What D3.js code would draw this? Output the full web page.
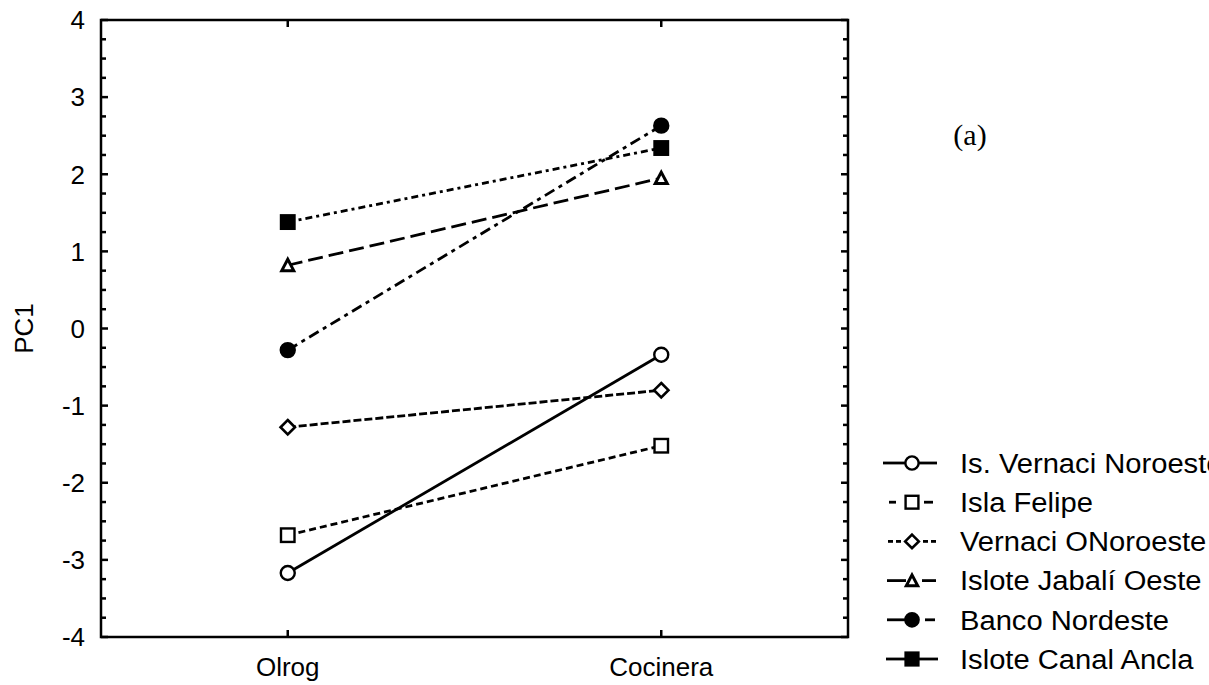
<!DOCTYPE html>
<html><head><meta charset="utf-8">
<script src="https://cdn.jsdelivr.net/npm/d3@7"></script>
<style>body{margin:0;background:#fff}svg{display:block}</style>
</head><body>
<svg id="c" width="1209" height="685"></svg>
<script>
const categories = ["Olrog", "Cocinera"];
const seriesNames = ["Is. Vernaci Noroeste", "Isla Felipe", "Vernaci ONoroeste", "Islote Jabalí Oeste", "Banco Nordeste", "Islote Canal Ancla"];
const vernaciNoroeste = [-3.17, -0.34];
const islaFelipe = [-2.68, -1.52];
const vernaciONoroeste = [-1.28, -0.80];
const isloteJabali = [0.82, 1.95];
const bancoNordeste = [-0.28, 2.63];
const isloteCanalAncla = [1.38, 2.34];
const yTicks = [-4, -3, -2, -1, 0, 1, 2, 3, 4];
const yLabel = "PC1";
const panelLabel = "(a)";

const seriesValues = [vernaciNoroeste, islaFelipe, vernaciONoroeste, isloteJabali, bancoNordeste, isloteCanalAncla];
const styles = [
  {marker: "circle", fill: "#fff", dash: null, legL: [[883, 905]], legR: [[919, 937]]},
  {marker: "square", fill: "#fff", dash: "7,4", legL: [[889, 896]], legR: [[924, 933]]},
  {marker: "diamond", fill: "#fff", dash: "8,3", legL: [[888, 893], [896, 901]], legR: [[923, 928], [931, 936]]},
  {marker: "triangle", fill: "#fff", dash: "15,6", legL: [[887, 906]], legR: [[922, 936]]},
  {marker: "circle", fill: "#000", dash: "11,5,4,5", legL: [[887, 905]], legR: [[925, 935]]},
  {marker: "square", fill: "#000", dash: "7,4,3,4", legL: [[886, 905]], legR: [[919, 938]]}
];

const svg = d3.select("#c");
const L = 101, R = 848, T = 20, B = 637;
const x = d3.scalePoint().domain(categories).range([L, R]).padding(0.5);
const y = d3.scaleLinear().domain([-4, 4]).range([B, T]);

svg.append("rect").attr("x", L).attr("y", T).attr("width", R - L).attr("height", B - T)
  .attr("fill", "none").attr("stroke", "#000").attr("stroke-width", 2.5);

const minor = d3.range(-4, 4.001, 0.25);
const g = svg.append("g").attr("stroke", "#000").attr("stroke-width", 2.5);
minor.forEach(v => {
  const major = Math.abs(v - Math.round(v)) < 1e-6;
  const len = major ? 7 : 5;
  g.append("line").attr("x1", L).attr("x2", L + len).attr("y1", y(v)).attr("y2", y(v));
  g.append("line").attr("x1", R).attr("x2", R - len).attr("y1", y(v)).attr("y2", y(v));
});
categories.forEach(c => {
  g.append("line").attr("x1", x(c)).attr("x2", x(c)).attr("y1", B).attr("y2", B - 7);
  g.append("line").attr("x1", x(c)).attr("x2", x(c)).attr("y1", T).attr("y2", T + 7);
});

const font = "Liberation Sans, Arial, sans-serif";
svg.selectAll(".yt").data(yTicks).enter().append("text")
  .attr("x", 85).attr("y", d => y(d)).attr("dy", "0.36em")
  .attr("text-anchor", "end").attr("font-family", font).attr("font-size", 26)
  .text(d => d);
svg.selectAll(".xt").data(categories).enter().append("text")
  .attr("x", d => x(d)).attr("y", 676)
  .attr("text-anchor", "middle").attr("font-family", font).attr("font-size", 26)
  .text(d => d);
svg.append("text").attr("transform", `translate(33,${y(0)}) rotate(-90)`)
  .attr("text-anchor", "middle").attr("font-family", font).attr("font-size", 26).text(yLabel);
svg.append("text").attr("x", 970).attr("y", 145).attr("text-anchor", "middle")
  .attr("font-family", "Liberation Serif, Times New Roman, serif").attr("font-size", 30).text(panelLabel);

function marker(sel, type, cx, cy, fill, scale) {
  scale = scale || 1;
  if (type === "circle") {
    sel.append("circle").attr("cx", cx).attr("cy", cy).attr("r", 7 * scale)
      .attr("fill", fill).attr("stroke", "#000").attr("stroke-width", 2.4);
  } else if (type === "square") {
    const s = 13.5 * scale;
    sel.append("rect").attr("x", cx - s / 2).attr("y", cy - s / 2).attr("width", s).attr("height", s)
      .attr("fill", fill).attr("stroke", "#000").attr("stroke-width", 2.4);
  } else if (type === "diamond") {
    const s = 7.2 * scale;
    sel.append("path").attr("d", `M${cx},${cy - s}L${cx + s},${cy}L${cx},${cy + s}L${cx - s},${cy}Z`)
      .attr("fill", fill).attr("stroke", "#000").attr("stroke-width", 2.6);
  } else if (type === "triangle") {
    const s = 6 * scale;
    sel.append("path").attr("d", `M${cx},${cy - s}L${cx + s},${cy + s * 0.9}L${cx - s},${cy + s * 0.9}Z`)
      .attr("fill", fill).attr("stroke", "#000").attr("stroke-width", 3);
  }
}

const line = d3.line().x((d, i) => x(categories[i])).y(d => y(d));
seriesValues.forEach((vals, k) => {
  svg.append("path").attr("d", line(vals)).attr("fill", "none")
    .attr("stroke", "#000").attr("stroke-width", 2.8)
    .attr("stroke-dasharray", styles[k].dash);
});
seriesValues.forEach((vals, k) => {
  const st = styles[k];
  vals.forEach((v, i) => marker(svg, st.marker, x(categories[i]), y(v), st.fill));
});

// legend
const ly = d3.scaleLinear().domain([0, 5]).range([463, 659]);
seriesNames.forEach((n, k) => {
  const yy = ly(k);
  const st = styles[k];
  st.legL.concat(st.legR).forEach(s => {
    svg.append("line").attr("x1", s[0]).attr("x2", s[1]).attr("y1", yy).attr("y2", yy)
      .attr("stroke", "#000").attr("stroke-width", 2.8);
  });
  marker(svg, st.marker, 912, yy, st.fill, 0.95);
  svg.append("text").attr("transform", `translate(960,${yy}) scale(1.08,1)`).attr("dy", "0.36em")
    .attr("font-family", font).attr("font-size", 27).text(n);
});
</script>
</body></html>
